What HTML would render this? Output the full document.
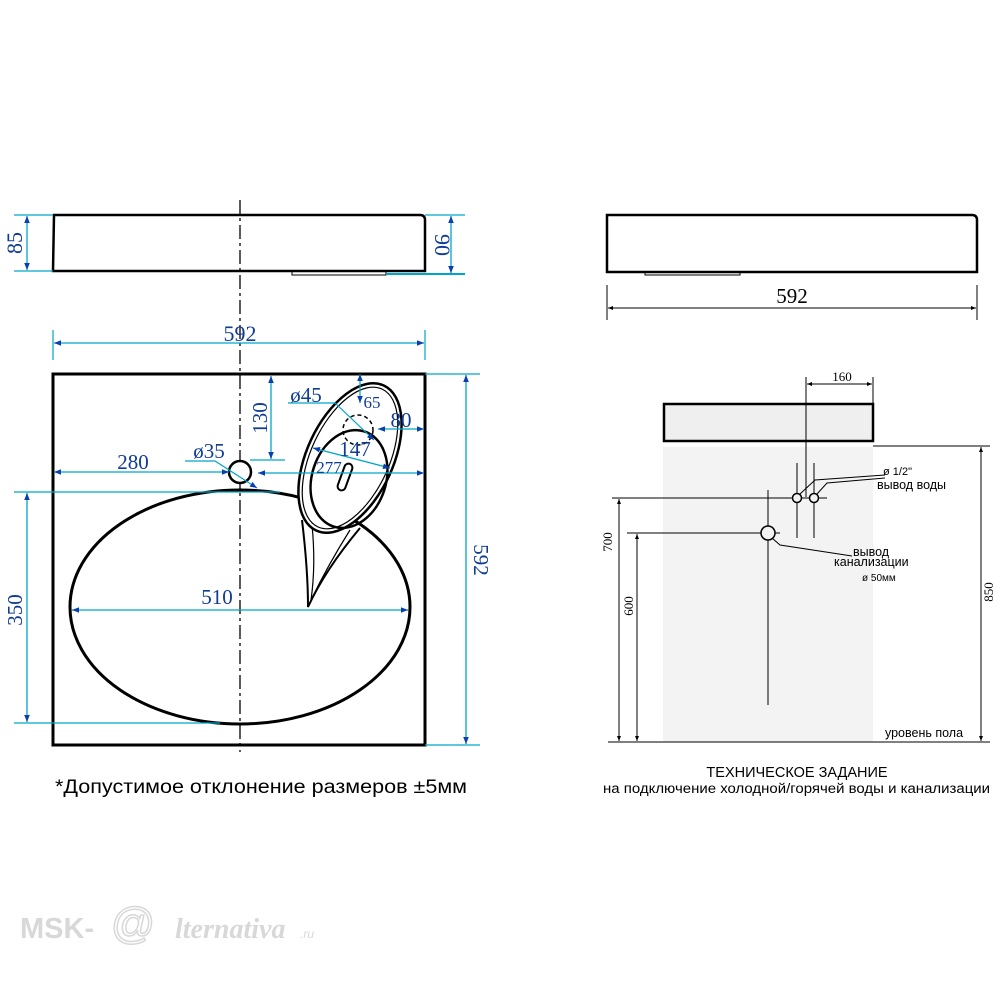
<!DOCTYPE html>
<html><head><meta charset="utf-8"><style>body{margin:0;background:#fff}svg{display:block}</style></head><body>
<svg width="1000" height="1000" viewBox="0 0 1000 1000" xmlns="http://www.w3.org/2000/svg" font-family="Liberation Serif, serif">
<defs>
<marker id="a" viewBox="0 0 10 10" refX="10" refY="5" markerWidth="9" markerHeight="7" orient="auto-start-reverse" markerUnits="userSpaceOnUse"><path d="M0,1 L10,5 L0,9z" fill="#0a3fb0"/></marker>
<marker id="k" viewBox="0 0 10 10" refX="10" refY="5" markerWidth="8" markerHeight="5" orient="auto-start-reverse" markerUnits="userSpaceOnUse"><path d="M0,1 L10,5 L0,9z" fill="#000"/></marker>
</defs>
<line x1="240" y1="200" x2="240" y2="752" stroke="#000" stroke-width="1.3" stroke-dasharray="14,4,3,4"/>
<path d="M53,271 L54,215 L420,215 Q425,215 425,220 L425,271 Z" fill="none" stroke="#000" stroke-width="2.5"/>
<rect x="292" y="271" width="94" height="4" fill="none" stroke="#000" stroke-width="1"/>
<g stroke="#00a6c8" stroke-width="1.2">
<line x1="14" y1="215" x2="53" y2="215"/><line x1="14" y1="271" x2="53" y2="271"/>
<line x1="425" y1="215" x2="465" y2="215"/><line x1="386" y1="274" x2="465" y2="274" stroke-width="2"/>
<line x1="53" y1="330" x2="53" y2="360"/><line x1="425" y1="330" x2="425" y2="360"/>
</g>
<g stroke="#00a6c8" stroke-width="1.3" marker-start="url(#a)" marker-end="url(#a)">
<line x1="27" y1="216" x2="27" y2="270"/><line x1="451" y1="216" x2="451" y2="273"/>
<line x1="54" y1="343" x2="424" y2="343"/>
</g>
<g fill="#103c96" font-size="22">
<text x="17" y="243" text-anchor="middle" transform="rotate(-90 17 243)" dominant-baseline="middle">85</text>
<text x="440" y="245" text-anchor="middle" transform="rotate(90 440 245)" dominant-baseline="middle">90</text>
<text x="240" y="341" text-anchor="middle">592</text>
</g>
<rect x="53" y="374" width="372" height="371" fill="none" stroke="#000" stroke-width="3"/>
<ellipse cx="240" cy="607" rx="170" ry="117" fill="none" stroke="#000" stroke-width="3"/>
<g stroke="#00a6c8" stroke-width="1.2">
<line x1="14" y1="492" x2="280" y2="492"/><line x1="14" y1="723" x2="220" y2="723"/>
<line x1="425" y1="374" x2="480" y2="374"/><line x1="425" y1="745" x2="480" y2="745"/>
<line x1="250" y1="460" x2="285" y2="460"/>
</g>
<path d="M302,520 Q308,570 308,607 Q325,570 360,528" fill="#fff" stroke="#000" stroke-width="2"/>
<path d="M312,525 Q316,565 311,600 Q328,565 350,530" fill="none" stroke="#000" stroke-width="1.2"/>
<ellipse cx="350" cy="458" rx="43" ry="80" transform="rotate(25 350 458)" fill="#fff" stroke="#000" stroke-width="2.5"/>
<ellipse cx="350" cy="458" rx="39" ry="76" transform="rotate(25 350 458)" fill="none" stroke="#000" stroke-width="1.2"/>
<ellipse cx="349" cy="479" rx="37" ry="50" transform="rotate(18 349 479)" fill="none" stroke="#000" stroke-width="2.5"/>
<circle cx="358" cy="430" r="15" fill="none" stroke="#000" stroke-width="1.5" stroke-dasharray="4,3"/>
<rect x="341" y="463" width="8" height="28" rx="4" transform="rotate(20 345 477)" fill="none" stroke="#000" stroke-width="2"/>
<circle cx="240" cy="472" r="11" fill="#fff" stroke="#000" stroke-width="2.5"/>
<g stroke="#00a6c8" stroke-width="1.3" marker-start="url(#a)" marker-end="url(#a)">
<line x1="27" y1="493" x2="27" y2="722"/><line x1="466" y1="375" x2="466" y2="744"/>
<line x1="72" y1="610" x2="408" y2="610"/>
<line x1="54" y1="472" x2="229" y2="472"/>
<line x1="271" y1="376" x2="271" y2="459"/>
<line x1="258" y1="473" x2="424" y2="473"/>
<line x1="313" y1="448" x2="390" y2="468"/>
<line x1="378" y1="429" x2="424" y2="429"/>
</g>
<g stroke="#00a6c8" stroke-width="1.2" fill="none">
<path d="M288,403 L335,403 L374,440" marker-end="url(#a)"/>
<line x1="360" y1="374" x2="360" y2="403" marker-end="url(#a)" marker-start="url(#a)"/>
<path d="M185,461 L215,461 L257,488" marker-end="url(#a)"/>
</g>
<g fill="#103c96" font-size="21">
<text x="17" y="610" text-anchor="middle" transform="rotate(-90 17 610)" dominant-baseline="middle">350</text>
<text x="479" y="560" text-anchor="middle" transform="rotate(90 479 560)" dominant-baseline="middle">592</text>
<text x="217" y="604" text-anchor="middle">510</text>
<text x="133" y="469" text-anchor="middle">280</text>
<text x="209" y="458" text-anchor="middle">ø35</text>
<text x="262" y="418" text-anchor="middle" transform="rotate(-90 262 418)" dominant-baseline="middle">130</text>
<text x="306" y="402" text-anchor="middle">ø45</text>
<text x="372" y="408" text-anchor="middle" font-size="17">65</text>
<text x="401" y="427" text-anchor="middle">80</text>
<text x="355" y="456" text-anchor="middle">147</text>
<text x="329" y="473" text-anchor="middle" font-size="17">277</text>
</g>
<text x="55" y="793" font-family="Liberation Sans, sans-serif" font-size="19" textLength="412" lengthAdjust="spacingAndGlyphs">*Допустимое отклонение размеров ±5мм</text>
<path d="M607,272 L607,215 L972,215 Q977,215 977,220 L977,272 Z" fill="none" stroke="#000" stroke-width="2.5"/>
<rect x="645" y="272" width="95" height="3" fill="none" stroke="#000" stroke-width="1"/>
<line x1="607" y1="285" x2="607" y2="320" stroke="#000"/><line x1="977" y1="285" x2="977" y2="320" stroke="#000"/>
<line x1="608" y1="308" x2="976" y2="308" stroke="#000" stroke-width="1" marker-start="url(#k)" marker-end="url(#k)"/>
<text x="792" y="303" text-anchor="middle" font-size="21">592</text>
<rect x="663" y="447" width="210" height="295" fill="#f3f3f3"/>
<rect x="664" y="404" width="209" height="37" fill="#efefef" stroke="#000" stroke-width="2.5"/>
<g stroke="#000" stroke-width="1" fill="none">
<line x1="806" y1="377" x2="806" y2="497"/><line x1="873" y1="377" x2="873" y2="403"/>
<line x1="807" y1="384" x2="872" y2="384" marker-start="url(#k)" marker-end="url(#k)"/>
<line x1="797" y1="463" x2="797" y2="538"/><line x1="814" y1="463" x2="814" y2="538"/>
<line x1="612" y1="498" x2="827" y2="498"/>
<line x1="768" y1="490" x2="768" y2="705"/><line x1="627" y1="533" x2="780" y2="533"/>
<line x1="873" y1="446" x2="990" y2="446"/><line x1="608" y1="742" x2="990" y2="742"/>
<line x1="619" y1="499" x2="619" y2="741" marker-start="url(#k)" marker-end="url(#k)"/>
<line x1="637" y1="534" x2="637" y2="741" marker-start="url(#k)" marker-end="url(#k)"/>
<line x1="981" y1="447" x2="981" y2="741" marker-start="url(#k)" marker-end="url(#k)"/>
<path d="M800,494 L815,480 L885,475"/><path d="M817,494 L827,483 L885,478"/>
<path d="M772,538 L780,545 L852,556"/>
</g>
<circle cx="797" cy="498" r="4.5" fill="#f3f3f3" stroke="#000" stroke-width="1.5"/>
<circle cx="814" cy="498" r="4.5" fill="#f3f3f3" stroke="#000" stroke-width="1.5"/>
<circle cx="768" cy="533" r="7" fill="#f3f3f3" stroke="#000" stroke-width="1.5"/>
<g font-size="13">
<text x="842" y="381" text-anchor="middle">160</text>
<text x="609" y="542" text-anchor="middle" transform="rotate(-90 609 542)" dominant-baseline="middle">700</text>
<text x="630" y="606" text-anchor="middle" transform="rotate(-90 630 606)" dominant-baseline="middle">600</text>
<text x="990" y="592" text-anchor="middle" transform="rotate(-90 990 592)" dominant-baseline="middle">850</text>
</g>
<g font-family="Liberation Sans, sans-serif" font-size="12.5">
<text x="883" y="475" font-size="11">ø 1/2"</text>
<text x="877" y="489">вывод воды</text>
<text x="853" y="556">вывод</text>
<text x="834" y="566">канализации</text>
<text x="862" y="581" font-size="10">ø 50мм</text>
<text x="885" y="737">уровень пола</text>
<text x="797" y="777" text-anchor="middle" font-size="14.5">ТЕХНИЧЕСКОЕ ЗАДАНИЕ</text>
<text x="603" y="793" font-size="13.5" textLength="387" lengthAdjust="spacingAndGlyphs">на подключение холодной/горячей воды и канализации</text>
</g>
<g fill="#d8d8d8" font-family="Liberation Sans, sans-serif">
<text x="20" y="938" font-size="29" font-weight="bold">MSK-</text>
<text x="110" y="938" font-size="44" font-style="italic" fill="none" stroke="#d8d8d8" stroke-width="1.5">@</text>
<text x="175" y="938" font-size="28" font-style="italic" font-family="Liberation Serif, serif" font-weight="bold">lternativa</text>
<text x="300" y="938" font-size="12" font-style="italic">.ru</text>
</g>
</svg>
</body></html>
